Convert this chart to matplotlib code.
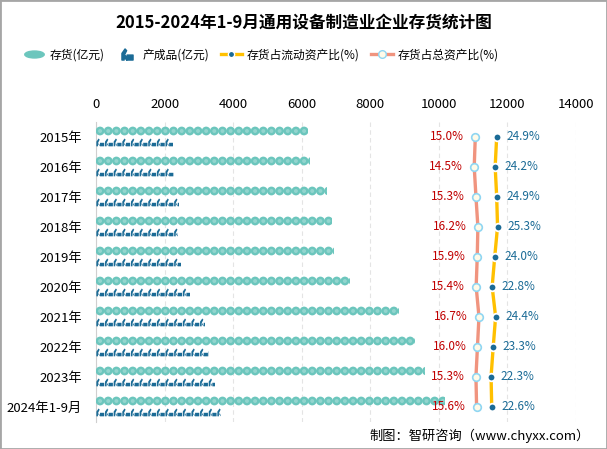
import numpy as np
import matplotlib
matplotlib.use("Agg")
import matplotlib.pyplot as plt
from matplotlib.patches import Rectangle
from matplotlib.path import Path
from matplotlib.lines import Line2D

plt.rcParams['font.family'] = ['Noto Sans CJK SC', 'DejaVu Sans']

years = ['2015年', '2016年', '2017年', '2018年', '2019年',
         '2020年', '2021年', '2022年', '2023年', '2024年1-9月']
inventory = [6180, 6240, 6740, 6880, 6940, 7410, 8840, 9300, 9600, 10180]
finished = [2250, 2270, 2430, 2390, 2480, 2740, 3180, 3300, 3470, 3650]
pct_current = [24.9, 24.2, 24.9, 25.3, 24.0, 22.8, 24.4, 23.3, 22.3, 22.6]
pct_total = [15.0, 14.5, 15.3, 16.2, 15.9, 15.4, 16.7, 16.0, 15.3, 15.6]

TEAL = '#6cc6bd'
TEAL_IN = '#93d5ce'
DARKBLUE = '#1b6b96'
YELLOW = '#ffc000'
SALMON = '#f0947f'
RED = '#c00000'

# little "k + bar" icon for the finished goods bars
icon_verts = [(0.0, 0.0), (0.2, 0.0), (0.2, 0.4), (0.42, 0.85), (0.28, 1.0), (0.0, 0.6), (0.0, 0.0),
              (0.22, 0.3), (0.42, 0.0), (0.42, 0.15), (0.3, 0.4), (0.22, 0.3),
              (0.46, 0.0), (1.0, 0.0), (1.0, 0.45), (0.46, 0.45), (0.46, 0.0)]
icon_codes = [Path.MOVETO] + [Path.LINETO] * 5 + [Path.CLOSEPOLY] + \
             [Path.MOVETO] + [Path.LINETO] * 3 + [Path.CLOSEPOLY] + \
             [Path.MOVETO] + [Path.LINETO] * 3 + [Path.CLOSEPOLY]
icon = Path(np.array(icon_verts) - 0.5, icon_codes)
ellipse = Path.unit_circle().transformed(matplotlib.transforms.Affine2D().scale(2.8, 1))

fig = plt.figure(figsize=(6.07, 4.49), dpi=100)
ax = fig.add_axes([96 / 607, 1 - 421.7 / 449, 480 / 607, 300 / 449])
n = len(years)
ax.set_xlim(0, 14000)
ax.set_ylim(n - 0.5, -0.5)

circ_step = 238
icon_step = 252
for i in range(n):
    yc = i - 0.19
    xs = np.arange(circ_step / 2, inventory[i] + circ_step, circ_step)
    clip = Rectangle((0, yc - 0.2), inventory[i], 0.4, transform=ax.transData)
    s1 = ax.scatter(xs, [yc] * len(xs), s=40, color=TEAL, edgecolors='none', zorder=3)
    s2 = ax.scatter(xs, [yc] * len(xs), s=8, color=TEAL_IN, edgecolors='none', zorder=3)
    s1.set_clip_path(clip)
    s2.set_clip_path(clip)

    yi = i + 0.19
    xi = np.arange(icon_step / 2, finished[i] + icon_step, icon_step)
    clip2 = Rectangle((0, yi - 0.2), finished[i], 0.4, transform=ax.transData)
    s3 = ax.scatter(xi, [yi] * len(xi), s=32, marker=icon, color=DARKBLUE, edgecolors='none', zorder=3)
    s3.set_clip_path(clip2)

ax.set_yticks(range(n))
ax.set_yticklabels(years, fontsize=9.5)
ax.tick_params(axis='y', length=0, pad=10)
ax.grid(axis='x', color='#e4e4e4', linestyle=(0, (4, 3)), linewidth=0.8)
ax.set_axisbelow(True)
for side in ['top', 'right', 'bottom']:
    ax.spines[side].set_visible(False)
ax.spines['left'].set_color('#cfcfcf')

# percentage lines on a hidden second x axis
ax2 = ax.twiny()
ax2.set_xlim((96 - 442.9) / 2.16, (576 - 442.9) / 2.16)
ax2.set_ylim(n - 0.5, -0.5)
ax2.axis('off')

ax.xaxis.tick_top()
ax.set_xticks(range(0, 14001, 2000))
ax.tick_params(axis='x', length=0, labelsize=9.5, pad=8)

ys = np.arange(n)
ax2.plot(pct_total, ys, color=SALMON, lw=2.4, zorder=4,
         marker='o', ms=5.5, mfc='#fffbe9', mec='#8fd6f2', mew=1.2)
ax2.plot(pct_current, ys, color=YELLOW, lw=2.4, zorder=4,
         marker='o', ms=5.5, mfc=DARKBLUE, mec='white', mew=1.3)
for i in range(n):
    ax2.annotate(f'{pct_total[i]:.1f}%', (pct_total[i], i), xytext=(-8, 0),
                 textcoords='offset points', ha='right', va='center',
                 color=RED, fontsize=8.5)
    ax2.annotate(f'{pct_current[i]:.1f}%', (pct_current[i], i), xytext=(7, 0),
                 textcoords='offset points', ha='left', va='center',
                 color=DARKBLUE, fontsize=8.5)

fig.text(0.5, 1 - 22 / 449, '2015-2024年1-9月通用设备制造业企业存货统计图',
         ha='center', va='center', fontsize=12, fontweight='bold')

handles = [
    Line2D([], [], ls='none', marker=ellipse, ms=14, color=TEAL),
    Line2D([], [], ls='none', marker=icon, ms=8, color=DARKBLUE),
    Line2D([], [], color=YELLOW, lw=2.4, marker='o', ms=4.5, mfc=DARKBLUE, mec='white'),
    Line2D([], [], color=SALMON, lw=2.4, marker='o', ms=5.5, mfc='#fffbe9', mec='#8fd6f2'),
]
labels = ['存货(亿元)', '产成品(亿元)', '存货占流动资产比(%)', '存货占总资产比(%)']
fig.legend(handles, labels, loc='center', bbox_to_anchor=(0.43, 1 - 55 / 449), ncol=4,
           frameon=False, fontsize=8.5, handlelength=1.8, handletextpad=0.4, columnspacing=1.0)

fig.text(590 / 607, 1 - 436 / 449, '制图：智研咨询（www.chyxx.com）',
         ha='right', va='center', fontsize=9.5)

fig.patches.append(Rectangle((0, 0), 1, 1, transform=fig.transFigure, fill=False,
                             edgecolor='#a6a6a6', lw=2))

fig.savefig('out.png', dpi=100)
